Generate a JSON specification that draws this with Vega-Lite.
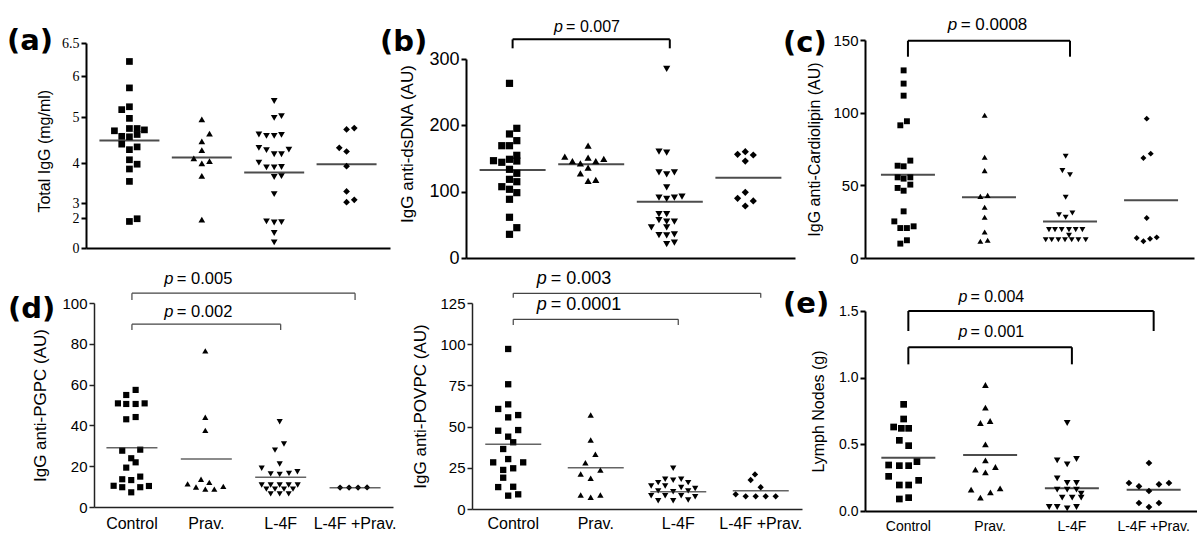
{
  "$schema": "https://vega.github.io/schema/vega-lite/v6.json",
  "background": "white",
  "padding": {"left": 7, "top": 15, "right": 0, "bottom": 0},
  "config": {
    "font": "Liberation Sans",
    "view": {"stroke": null},
    "axis": {"grid": false, "domainColor": "black", "tickColor": "black", "labelColor": "black", "titleColor": "black", "titleFontWeight": "normal", "domainWidth": 1.5, "tickWidth": 1.5, "tickSize": 5, "labelPadding": 2, "labelOverlap": false},
    "axisX": {"ticks": false, "title": null, "labelAngle": 0},
    "title": {"color": "black", "font": "DejaVu Sans", "fontSize": 29, "fontWeight": "bold", "anchor": "start", "frame": "group", "baseline": "middle", "offset": 0}
  },
  "datasets": {
    "pts": [
      {"p":"a","g":"Control","v":6.22,"dx":0},{"p":"a","g":"Control","v":5.71,"dx":0},{"p":"a","g":"Control","v":5.18,"dx":-7.7},{"p":"a","g":"Control","v":5.25,"dx":0},{"p":"a","g":"Control","v":4.97,"dx":0},{"p":"a","g":"Control","v":4.70,"dx":-15},{"p":"a","g":"Control","v":4.75,"dx":0},{"p":"a","g":"Control","v":4.75,"dx":7.7},{"p":"a","g":"Control","v":4.72,"dx":15},{"p":"a","g":"Control","v":4.58,"dx":-7.7},{"p":"a","g":"Control","v":4.57,"dx":0},{"p":"a","g":"Control","v":4.62,"dx":7.7},{"p":"a","g":"Control","v":4.41,"dx":-7.7},{"p":"a","g":"Control","v":4.29,"dx":0},{"p":"a","g":"Control","v":4.35,"dx":7.7},{"p":"a","g":"Control","v":4.07,"dx":0},{"p":"a","g":"Control","v":3.97,"dx":7.7},{"p":"a","g":"Control","v":3.85,"dx":0},{"p":"a","g":"Control","v":3.54,"dx":0},{"p":"a","g":"Control","v":1.77,"dx":0},{"p":"a","g":"Control","v":1.95,"dx":7.7},
      {"p":"a","g":"Prav.","v":4.95,"dx":0},{"p":"a","g":"Prav.","v":4.64,"dx":7.7},{"p":"a","g":"Prav.","v":4.47,"dx":0},{"p":"a","g":"Prav.","v":4.28,"dx":0},{"p":"a","g":"Prav.","v":4.10,"dx":-8},{"p":"a","g":"Prav.","v":3.99,"dx":0},{"p":"a","g":"Prav.","v":4.04,"dx":7.7},{"p":"a","g":"Prav.","v":3.68,"dx":0},{"p":"a","g":"Prav.","v":1.89,"dx":0},
      {"p":"a","g":"L-4F","v":5.39,"dx":0},{"p":"a","g":"L-4F","v":4.98,"dx":0},{"p":"a","g":"L-4F","v":5.02,"dx":7.3},{"p":"a","g":"L-4F","v":4.62,"dx":-15.3},{"p":"a","g":"L-4F","v":4.59,"dx":-7.7},{"p":"a","g":"L-4F","v":4.59,"dx":0},{"p":"a","g":"L-4F","v":4.61,"dx":7.3},{"p":"a","g":"L-4F","v":4.33,"dx":-15.3},{"p":"a","g":"L-4F","v":4.28,"dx":-7.7},{"p":"a","g":"L-4F","v":4.19,"dx":0},{"p":"a","g":"L-4F","v":4.19,"dx":7.3},{"p":"a","g":"L-4F","v":4.29,"dx":14.7},{"p":"a","g":"L-4F","v":4.01,"dx":-15.3},{"p":"a","g":"L-4F","v":3.89,"dx":-7.7},{"p":"a","g":"L-4F","v":3.89,"dx":0},{"p":"a","g":"L-4F","v":3.90,"dx":7.3},{"p":"a","g":"L-4F","v":3.65,"dx":0},{"p":"a","g":"L-4F","v":3.67,"dx":7.3},{"p":"a","g":"L-4F","v":3.22,"dx":0},{"p":"a","g":"L-4F","v":1.77,"dx":-7.7},{"p":"a","g":"L-4F","v":1.70,"dx":0},{"p":"a","g":"L-4F","v":1.73,"dx":7.3},{"p":"a","g":"L-4F","v":1.0,"dx":0},{"p":"a","g":"L-4F","v":0.38,"dx":0},
      {"p":"a","g":"L-4F +Prav.","v":4.73,"dx":0},{"p":"a","g":"L-4F +Prav.","v":4.76,"dx":7.7},{"p":"a","g":"L-4F +Prav.","v":4.33,"dx":-7.3},{"p":"a","g":"L-4F +Prav.","v":4.25,"dx":0},{"p":"a","g":"L-4F +Prav.","v":3.92,"dx":0},{"p":"a","g":"L-4F +Prav.","v":3.29,"dx":0},{"p":"a","g":"L-4F +Prav.","v":3.02,"dx":0},{"p":"a","g":"L-4F +Prav.","v":3.08,"dx":7.7},

      {"p":"b","g":"Control","v":263.3,"dx":0},{"p":"b","g":"Control","v":195.5,"dx":7.3},{"p":"b","g":"Control","v":187,"dx":0},{"p":"b","g":"Control","v":176.9,"dx":7.3},{"p":"b","g":"Control","v":169.3,"dx":-7.7},{"p":"b","g":"Control","v":169.3,"dx":0},{"p":"b","g":"Control","v":146.7,"dx":-16},{"p":"b","g":"Control","v":144.3,"dx":-7.7},{"p":"b","g":"Control","v":148.8,"dx":0},{"p":"b","g":"Control","v":154.8,"dx":7.3},{"p":"b","g":"Control","v":146.2,"dx":7.3},{"p":"b","g":"Control","v":133.7,"dx":0},{"p":"b","g":"Control","v":127.7,"dx":7.3},{"p":"b","g":"Control","v":118.6,"dx":0},{"p":"b","g":"Control","v":115,"dx":7.3},{"p":"b","g":"Control","v":107.5,"dx":-7.7},{"p":"b","g":"Control","v":103.6,"dx":0},{"p":"b","g":"Control","v":98.5,"dx":7.3},{"p":"b","g":"Control","v":88.5,"dx":0},{"p":"b","g":"Control","v":61.4,"dx":0},{"p":"b","g":"Control","v":45.7,"dx":7.3},{"p":"b","g":"Control","v":35.7,"dx":0},
      {"p":"b","g":"Prav.","v":169.3,"dx":0},{"p":"b","g":"Prav.","v":152.7,"dx":-23.3},{"p":"b","g":"Prav.","v":146.2,"dx":-15.7},{"p":"b","g":"Prav.","v":142.8,"dx":-7.7},{"p":"b","g":"Prav.","v":151.2,"dx":0},{"p":"b","g":"Prav.","v":146.2,"dx":7.7},{"p":"b","g":"Prav.","v":149.3,"dx":15.7},{"p":"b","g":"Prav.","v":127.7,"dx":-7.7},{"p":"b","g":"Prav.","v":136.2,"dx":0},{"p":"b","g":"Prav.","v":116.1,"dx":0},{"p":"b","g":"Prav.","v":117.6,"dx":7.7},
      {"p":"b","g":"L-4F","v":285,"dx":0},{"p":"b","g":"L-4F","v":160.3,"dx":-7.7},{"p":"b","g":"L-4F","v":158.8,"dx":0},{"p":"b","g":"L-4F","v":129.2,"dx":-7.7},{"p":"b","g":"L-4F","v":126.2,"dx":0},{"p":"b","g":"L-4F","v":129.2,"dx":7.7},{"p":"b","g":"L-4F","v":106.6,"dx":0},{"p":"b","g":"L-4F","v":91,"dx":-7.7},{"p":"b","g":"L-4F","v":89,"dx":0},{"p":"b","g":"L-4F","v":91,"dx":7.7},{"p":"b","g":"L-4F","v":92.5,"dx":15.3},{"p":"b","g":"L-4F","v":66,"dx":-7.7},{"p":"b","g":"L-4F","v":66,"dx":0},{"p":"b","g":"L-4F","v":57,"dx":-7.7},{"p":"b","g":"L-4F","v":55,"dx":0},{"p":"b","g":"L-4F","v":55,"dx":7.7},{"p":"b","g":"L-4F","v":46,"dx":-15.3},{"p":"b","g":"L-4F","v":46,"dx":0},{"p":"b","g":"L-4F","v":34.5,"dx":-7.7},{"p":"b","g":"L-4F","v":34,"dx":0},{"p":"b","g":"L-4F","v":35.5,"dx":7.7},{"p":"b","g":"L-4F","v":21,"dx":0},{"p":"b","g":"L-4F","v":23,"dx":7.7},
      {"p":"b","g":"L-4F +Prav.","v":156.3,"dx":-7.7},{"p":"b","g":"L-4F +Prav.","v":160.3,"dx":0},{"p":"b","g":"L-4F +Prav.","v":155.3,"dx":8},{"p":"b","g":"L-4F +Prav.","v":146.2,"dx":0},{"p":"b","g":"L-4F +Prav.","v":90,"dx":-7.7},{"p":"b","g":"L-4F +Prav.","v":99,"dx":0},{"p":"b","g":"L-4F +Prav.","v":86,"dx":8},{"p":"b","g":"L-4F +Prav.","v":78.4,"dx":0},

      {"p":"c","g":"Control","v":129.1,"dx":0},{"p":"c","g":"Control","v":120,"dx":0},{"p":"c","g":"Control","v":111.7,"dx":0},{"p":"c","g":"Control","v":91.3,"dx":-3.3},{"p":"c","g":"Control","v":94.1,"dx":3.3},{"p":"c","g":"Control","v":67,"dx":6.7},{"p":"c","g":"Control","v":63.5,"dx":-6},{"p":"c","g":"Control","v":63.1,"dx":0},{"p":"c","g":"Control","v":55.5,"dx":-6},{"p":"c","g":"Control","v":54.6,"dx":0},{"p":"c","g":"Control","v":55.5,"dx":6.7},{"p":"c","g":"Control","v":48.2,"dx":-6},{"p":"c","g":"Control","v":46.3,"dx":0},{"p":"c","g":"Control","v":50.5,"dx":6.7},{"p":"c","g":"Control","v":32.1,"dx":0},{"p":"c","g":"Control","v":25.2,"dx":-9.3},{"p":"c","g":"Control","v":20.6,"dx":-3.3},{"p":"c","g":"Control","v":20.6,"dx":3.3},{"p":"c","g":"Control","v":21.8,"dx":10},{"p":"c","g":"Control","v":9.9,"dx":-3.3},{"p":"c","g":"Control","v":12.2,"dx":3.3},
      {"p":"c","g":"Prav.","v":98.2,"dx":0},{"p":"c","g":"Prav.","v":69.3,"dx":0},{"p":"c","g":"Prav.","v":60.1,"dx":0},{"p":"c","g":"Prav.","v":42.4,"dx":-4.3},{"p":"c","g":"Prav.","v":43.1,"dx":3},{"p":"c","g":"Prav.","v":34.9,"dx":0},{"p":"c","g":"Prav.","v":28,"dx":0},{"p":"c","g":"Prav.","v":17.9,"dx":0},{"p":"c","g":"Prav.","v":11.5,"dx":-4.3},{"p":"c","g":"Prav.","v":12.2,"dx":3},
      {"p":"c","g":"L-4F","v":70,"dx":0},{"p":"c","g":"L-4F","v":60.1,"dx":-3.3},{"p":"c","g":"L-4F","v":57.3,"dx":4.3},{"p":"c","g":"L-4F","v":41.8,"dx":0},{"p":"c","g":"L-4F","v":29.8,"dx":-6.7},{"p":"c","g":"L-4F","v":28,"dx":0},{"p":"c","g":"L-4F","v":31,"dx":6.7},{"p":"c","g":"L-4F","v":19.5,"dx":-16.7},{"p":"c","g":"L-4F","v":19.5,"dx":-10.7},{"p":"c","g":"L-4F","v":19.5,"dx":-4},{"p":"c","g":"L-4F","v":19.5,"dx":3.3},{"p":"c","g":"L-4F","v":19.5,"dx":10},{"p":"c","g":"L-4F","v":19.5,"dx":16.7},{"p":"c","g":"L-4F","v":15.6,"dx":3.3},{"p":"c","g":"L-4F","v":12.6,"dx":-20},{"p":"c","g":"L-4F","v":12.6,"dx":-14},{"p":"c","g":"L-4F","v":12.6,"dx":-7.3},{"p":"c","g":"L-4F","v":12.6,"dx":-0.7},{"p":"c","g":"L-4F","v":12.6,"dx":6},{"p":"c","g":"L-4F","v":12.6,"dx":12.7},{"p":"c","g":"L-4F","v":12.6,"dx":20},
      {"p":"c","g":"L-4F +Prav.","v":95.9,"dx":0},{"p":"c","g":"L-4F +Prav.","v":68.8,"dx":-3.3},{"p":"c","g":"L-4F +Prav.","v":71.8,"dx":4},{"p":"c","g":"L-4F +Prav.","v":27.5,"dx":0},{"p":"c","g":"L-4F +Prav.","v":13.8,"dx":-10},{"p":"c","g":"L-4F +Prav.","v":11.5,"dx":-3.3},{"p":"c","g":"L-4F +Prav.","v":13.3,"dx":3.3},{"p":"c","g":"L-4F +Prav.","v":14.2,"dx":10},

      {"p":"d","g":"Control","v":57.4,"dx":4.7},{"p":"d","g":"Control","v":54.9,"dx":-4.7},{"p":"d","g":"Control","v":50.8,"dx":-13},{"p":"d","g":"Control","v":50.5,"dx":-4.7},{"p":"d","g":"Control","v":50.5,"dx":4.7},{"p":"d","g":"Control","v":50.8,"dx":13.7},{"p":"d","g":"Control","v":43,"dx":-4.7},{"p":"d","g":"Control","v":44.1,"dx":4.7},{"p":"d","g":"Control","v":27.6,"dx":-8.7},{"p":"d","g":"Control","v":28.1,"dx":9.3},{"p":"d","g":"Control","v":23.9,"dx":0.3},{"p":"d","g":"Control","v":19.3,"dx":-4.7},{"p":"d","g":"Control","v":21.9,"dx":4.7},{"p":"d","g":"Control","v":13.6,"dx":-8.7},{"p":"d","g":"Control","v":13.2,"dx":0.3},{"p":"d","g":"Control","v":14.9,"dx":9.3},{"p":"d","g":"Control","v":10.4,"dx":-17.3},{"p":"d","g":"Control","v":9.7,"dx":-8.7},{"p":"d","g":"Control","v":7.2,"dx":0.3},{"p":"d","g":"Control","v":9.7,"dx":9.3},{"p":"d","g":"Control","v":10.3,"dx":18},
      {"p":"d","g":"Prav.","v":76.5,"dx":0},{"p":"d","g":"Prav.","v":44,"dx":0},{"p":"d","g":"Prav.","v":37.6,"dx":0},{"p":"d","g":"Prav.","v":11.3,"dx":-17.7},{"p":"d","g":"Prav.","v":13.6,"dx":-4.3},{"p":"d","g":"Prav.","v":12.1,"dx":4},{"p":"d","g":"Prav.","v":9.8,"dx":-9.3},{"p":"d","g":"Prav.","v":8.8,"dx":0},{"p":"d","g":"Prav.","v":8.8,"dx":9},{"p":"d","g":"Prav.","v":10.1,"dx":18},
      {"p":"d","g":"L-4F","v":41.8,"dx":0},{"p":"d","g":"L-4F","v":30.9,"dx":4.3},{"p":"d","g":"L-4F","v":27.9,"dx":-4.7},{"p":"d","g":"L-4F","v":21.1,"dx":0},{"p":"d","g":"L-4F","v":19,"dx":-18},{"p":"d","g":"L-4F","v":16.2,"dx":-9},{"p":"d","g":"L-4F","v":16,"dx":0},{"p":"d","g":"L-4F","v":16.5,"dx":9.3},{"p":"d","g":"L-4F","v":17.3,"dx":17.7},{"p":"d","g":"L-4F","v":10.8,"dx":-18},{"p":"d","g":"L-4F","v":10.8,"dx":-9},{"p":"d","g":"L-4F","v":10.8,"dx":0},{"p":"d","g":"L-4F","v":10.8,"dx":9},{"p":"d","g":"L-4F","v":10.8,"dx":18},{"p":"d","g":"L-4F","v":8.8,"dx":-13.3},{"p":"d","g":"L-4F","v":8.8,"dx":-4.7},{"p":"d","g":"L-4F","v":8.8,"dx":4.3},{"p":"d","g":"L-4F","v":8.8,"dx":13.3},{"p":"d","g":"L-4F","v":6.4,"dx":-9},{"p":"d","g":"L-4F","v":6.4,"dx":0},{"p":"d","g":"L-4F","v":6.4,"dx":9},
      {"p":"d","g":"L-4F +Prav.","v":9.5,"dx":-14},{"p":"d","g":"L-4F +Prav.","v":9.5,"dx":-5},{"p":"d","g":"L-4F +Prav.","v":9.5,"dx":4},{"p":"d","g":"L-4F +Prav.","v":9.6,"dx":13},

      {"p":"m","g":"Control","v":97.1,"dx":0},{"p":"m","g":"Control","v":75.7,"dx":0},{"p":"m","g":"Control","v":60.7,"dx":-10},{"p":"m","g":"Control","v":63.5,"dx":0},{"p":"m","g":"Control","v":57,"dx":10},{"p":"m","g":"Control","v":55.6,"dx":0},{"p":"m","g":"Control","v":47.5,"dx":-10},{"p":"m","g":"Control","v":47.9,"dx":10},{"p":"m","g":"Control","v":43.9,"dx":0},{"p":"m","g":"Control","v":40.5,"dx":5},{"p":"m","g":"Control","v":36.4,"dx":-5},{"p":"m","g":"Control","v":28.3,"dx":-15},{"p":"m","g":"Control","v":30.3,"dx":0},{"p":"m","g":"Control","v":28.3,"dx":15},{"p":"m","g":"Control","v":23.7,"dx":-5},{"p":"m","g":"Control","v":24.7,"dx":5},{"p":"m","g":"Control","v":19,"dx":-5},{"p":"m","g":"Control","v":13.3,"dx":-10},{"p":"m","g":"Control","v":13.5,"dx":5},{"p":"m","g":"Control","v":8.1,"dx":0},{"p":"m","g":"Control","v":8.9,"dx":10},
      {"p":"m","g":"Prav.","v":57,"dx":0},{"p":"m","g":"Prav.","v":41.9,"dx":0},{"p":"m","g":"Prav.","v":33.2,"dx":4.7},{"p":"m","g":"Prav.","v":28.1,"dx":-5.3},{"p":"m","g":"Prav.","v":21.2,"dx":-10},{"p":"m","g":"Prav.","v":18.6,"dx":0},{"p":"m","g":"Prav.","v":23.7,"dx":9.7},{"p":"m","g":"Prav.","v":8.5,"dx":-10},{"p":"m","g":"Prav.","v":7.1,"dx":0},{"p":"m","g":"Prav.","v":8.5,"dx":9.7},
      {"p":"m","g":"L-4F","v":24.7,"dx":0},{"p":"m","g":"L-4F","v":18,"dx":-8},{"p":"m","g":"L-4F","v":17.5,"dx":0},{"p":"m","g":"L-4F","v":18,"dx":8},{"p":"m","g":"L-4F","v":16,"dx":-15},{"p":"m","g":"L-4F","v":16,"dx":15},{"p":"m","g":"L-4F","v":14,"dx":-22},{"p":"m","g":"L-4F","v":14,"dx":-8},{"p":"m","g":"L-4F","v":13,"dx":8},{"p":"m","g":"L-4F","v":12.5,"dx":22},{"p":"m","g":"L-4F","v":11,"dx":-15},{"p":"m","g":"L-4F","v":10.5,"dx":0},{"p":"m","g":"L-4F","v":11,"dx":15},{"p":"m","g":"L-4F","v":8,"dx":-22},{"p":"m","g":"L-4F","v":8,"dx":-8},{"p":"m","g":"L-4F","v":8,"dx":8},{"p":"m","g":"L-4F","v":7.5,"dx":22},{"p":"m","g":"L-4F","v":5,"dx":-15},{"p":"m","g":"L-4F","v":5,"dx":0},{"p":"m","g":"L-4F","v":5.5,"dx":15},
      {"p":"m","g":"L-4F +Prav.","v":21,"dx":-0.7},{"p":"m","g":"L-4F +Prav.","v":17.6,"dx":-5},{"p":"m","g":"L-4F +Prav.","v":13.2,"dx":5},{"p":"m","g":"L-4F +Prav.","v":8.9,"dx":-20},{"p":"m","g":"L-4F +Prav.","v":7.7,"dx":-10},{"p":"m","g":"L-4F +Prav.","v":7.7,"dx":0},{"p":"m","g":"L-4F +Prav.","v":7.7,"dx":10},{"p":"m","g":"L-4F +Prav.","v":7.7,"dx":20},

      {"p":"e","g":"Control","v":0.80,"dx":0},{"p":"e","g":"Control","v":0.69,"dx":0},{"p":"e","g":"Control","v":0.63,"dx":-10},{"p":"e","g":"Control","v":0.62,"dx":-2.3},{"p":"e","g":"Control","v":0.62,"dx":5},{"p":"e","g":"Control","v":0.53,"dx":-4.3},{"p":"e","g":"Control","v":0.49,"dx":5},{"p":"e","g":"Control","v":0.345,"dx":-15},{"p":"e","g":"Control","v":0.34,"dx":-4.3},{"p":"e","g":"Control","v":0.34,"dx":5},{"p":"e","g":"Control","v":0.37,"dx":13.3},{"p":"e","g":"Control","v":0.26,"dx":-15},{"p":"e","g":"Control","v":0.23,"dx":15},{"p":"e","g":"Control","v":0.195,"dx":-4.3},{"p":"e","g":"Control","v":0.195,"dx":5},{"p":"e","g":"Control","v":0.09,"dx":-4.3},{"p":"e","g":"Control","v":0.10,"dx":5},
      {"p":"e","g":"Prav.","v":0.945,"dx":0},{"p":"e","g":"Prav.","v":0.775,"dx":0},{"p":"e","g":"Prav.","v":0.66,"dx":-5},{"p":"e","g":"Prav.","v":0.675,"dx":4.7},{"p":"e","g":"Prav.","v":0.50,"dx":0},{"p":"e","g":"Prav.","v":0.38,"dx":0},{"p":"e","g":"Prav.","v":0.31,"dx":-10},{"p":"e","g":"Prav.","v":0.29,"dx":0},{"p":"e","g":"Prav.","v":0.33,"dx":10},{"p":"e","g":"Prav.","v":0.16,"dx":-14.3},{"p":"e","g":"Prav.","v":0.10,"dx":-5},{"p":"e","g":"Prav.","v":0.14,"dx":5},{"p":"e","g":"Prav.","v":0.17,"dx":14.7},
      {"p":"e","g":"L-4F","v":0.66,"dx":0},{"p":"e","g":"L-4F","v":0.38,"dx":-10},{"p":"e","g":"L-4F","v":0.35,"dx":0},{"p":"e","g":"L-4F","v":0.39,"dx":9.3},{"p":"e","g":"L-4F","v":0.245,"dx":-10},{"p":"e","g":"L-4F","v":0.21,"dx":0},{"p":"e","g":"L-4F","v":0.21,"dx":9.3},{"p":"e","g":"L-4F","v":0.16,"dx":-10},{"p":"e","g":"L-4F","v":0.16,"dx":0},{"p":"e","g":"L-4F","v":0.16,"dx":9.3},{"p":"e","g":"L-4F","v":0.13,"dx":14},{"p":"e","g":"L-4F","v":0.10,"dx":-5},{"p":"e","g":"L-4F","v":0.10,"dx":5},{"p":"e","g":"L-4F","v":0.10,"dx":14},{"p":"e","g":"L-4F","v":0.03,"dx":-10},{"p":"e","g":"L-4F","v":0.02,"dx":0},{"p":"e","g":"L-4F","v":0.03,"dx":9.3},{"p":"e","g":"L-4F","v":0.03,"dx":-18},
      {"p":"e","g":"L-4F +Prav.","v":0.36,"dx":0},{"p":"e","g":"L-4F +Prav.","v":0.21,"dx":-20},{"p":"e","g":"L-4F +Prav.","v":0.185,"dx":-10},{"p":"e","g":"L-4F +Prav.","v":0.20,"dx":10},{"p":"e","g":"L-4F +Prav.","v":0.21,"dx":20},{"p":"e","g":"L-4F +Prav.","v":0.15,"dx":0},{"p":"e","g":"L-4F +Prav.","v":0.06,"dx":-10},{"p":"e","g":"L-4F +Prav.","v":0.06,"dx":10},{"p":"e","g":"L-4F +Prav.","v":0.03,"dx":0}
    ],
    "means": [
      {"p":"a","g":"Control","v":4.49},{"p":"a","g":"Prav.","v":4.12},{"p":"a","g":"L-4F","v":3.76},{"p":"a","g":"L-4F +Prav.","v":3.97},
      {"p":"b","g":"Control","v":132.7},{"p":"b","g":"Prav.","v":141.3},{"p":"b","g":"L-4F","v":84.9},{"p":"b","g":"L-4F +Prav.","v":121},
      {"p":"c","g":"Control","v":57.3},{"p":"c","g":"Prav.","v":41.8},{"p":"c","g":"L-4F","v":25.2},{"p":"c","g":"L-4F +Prav.","v":39.7},
      {"p":"d","g":"Control","v":29.1},{"p":"d","g":"Prav.","v":23.5},{"p":"d","g":"L-4F","v":14.6},{"p":"d","g":"L-4F +Prav.","v":9.4},
      {"p":"m","g":"Control","v":39.3},{"p":"m","g":"Prav.","v":25.1},{"p":"m","g":"L-4F","v":10.5},{"p":"m","g":"L-4F +Prav.","v":11.1},
      {"p":"e","g":"Control","v":0.40},{"p":"e","g":"Prav.","v":0.42},{"p":"e","g":"L-4F","v":0.17},{"p":"e","g":"L-4F +Prav.","v":0.16}
    ],
    "br": [
      {"p":"b","from":"Control","to":"L-4F","top":329.6,"bot":316.1},
      {"p":"c","from":"Control","to":"L-4F","top":149.5,"bot":138.5},
      {"p":"d","from":"Control","to":"L-4F +Prav.","top":104.8,"bot":101.5},
      {"p":"d","from":"Control","to":"L-4F","top":89.6,"bot":86.8},
      {"p":"m","from":"Control","to":"L-4F +Prav.","top":130.9,"bot":128.2},
      {"p":"m","from":"Control","to":"L-4F","top":115.1,"bot":111.7},
      {"p":"e","from":"Control","to":"L-4F +Prav.","top":1.5,"bot":1.35},
      {"p":"e","from":"Control","to":"L-4F","top":1.228,"bot":1.10}
    ],
    "ptext": [
      {"p":"b","g":"Prav.","dx":-34,"y":341.2,"t":"= 0.007"},
      {"p":"c","g":"Prav.","dx":-37,"y":156.9,"t":"= 0.0008"},
      {"p":"d","g":"Prav.","dx":-41,"y":109.3,"t":"= 0.005"},
      {"p":"d","g":"Prav.","dx":-41,"y":93.3,"t":"= 0.002"},
      {"p":"m","g":"Prav.","dx":-54,"y":136.5,"t":"= 0.003"},
      {"p":"m","g":"Prav.","dx":-54,"y":120.8,"t":"= 0.0001"},
      {"p":"e","g":"Prav.","dx":-27,"y":1.570,"t":"= 0.004"},
      {"p":"e","g":"Prav.","dx":-27,"y":1.308,"t":"= 0.001"}
    ]
  },
  "bounds": "flush",
  "align": "none",
  "columns": 3,
  "spacing": {"row": 45, "column": 68},
  "concat": [
    {
      "width": 304, "height": 208,
      "title": {"text": "(a)", "dx": -79, "dy": 24},
      "layer": [
        {"data": {"name": "pts"}, "transform": [{"filter": "datum.p=='a'"}],
         "mark": {"type": "point", "filled": true, "opacity": 1, "color": "black", "size": 45},
         "encoding": {
           "x": {"field": "g", "type": "nominal", "scale": {"domain": ["Control","Prav.","L-4F","L-4F +Prav."], "paddingOuter": 0.1, "paddingInner": 0}, "axis": {"labels": false, "domainWidth": 2, "title": null}},
           "xOffset": {"field": "dx", "type": "quantitative", "scale": {"domain": [-100, 100], "range": [-63.81, 136.19]}},
           "y": {"field": "v", "type": "quantitative", "scale": {"type": "linear", "domain": [0,2,3,4,5,6,6.5], "range": [208,178,163,123,77,36,3], "nice": false, "zero": false}, "axis": {"values": [0,2,3,4,5,6,6.5], "tickCount": 12, "labelExpr": "toString(datum.value)", "labelOverlap": false, "labelFont": "Liberation Serif", "labelFontSize": 14, "title": "Total IgG (mg/ml)", "titleFontSize": 16, "titlePadding": 9, "titleY": 110.7, "domainWidth": 2, "tickWidth": 2}},
           "shape": {"field": "g", "type": "nominal", "scale": {"domain": ["Control","Prav.","L-4F","L-4F +Prav."], "range": ["square","triangle-up","triangle-down","diamond"]}, "legend": null}
         }},
        {"data": {"name": "means"}, "transform": [{"filter": "datum.p=='a'"}],
         "mark": {"type": "tick", "size": 60, "thickness": 2, "color": "black"},
         "encoding": {"x": {"field": "g", "type": "nominal"}, "y": {"field": "v", "type": "quantitative"}}}
      ]
    },
    {
      "width": 329, "height": 218,
      "title": {"text": "(b)", "dx": -86, "dy": 42},
      "layer": [
        {"data": {"name": "pts"}, "transform": [{"filter": "datum.p=='b'"}],
         "mark": {"type": "point", "filled": true, "opacity": 1, "color": "black", "size": 52},
         "encoding": {
           "x": {"field": "g", "type": "nominal", "scale": {"domain": ["Control","Prav.","L-4F","L-4F +Prav."], "paddingOuter": 0.093, "paddingInner": 0}, "axis": {"labels": false, "domainWidth": 2, "title": null}},
           "xOffset": {"field": "dx", "type": "quantitative", "scale": {"domain": [-100, 100], "range": [-60.7, 139.3]}},
           "y": {"field": "v", "type": "quantitative", "scale": {"domain": [0, 300], "range": [218, 19], "nice": false}, "axis": {"values": [0,100,200,300], "labelFontSize": 18, "title": "IgG anti-dsDNA (AU)", "titleFontSize": 17, "titlePadding": 12, "titleY": 103.5, "domainWidth": 2, "tickWidth": 2}},
           "shape": {"field": "g", "type": "nominal", "scale": {"domain": ["Control","Prav.","L-4F","L-4F +Prav."], "range": ["square","triangle-up","triangle-down","diamond"]}, "legend": null}
         }},
        {"data": {"name": "means"}, "transform": [{"filter": "datum.p=='b'"}],
         "mark": {"type": "tick", "size": 66, "thickness": 2, "color": "black"},
         "encoding": {"x": {"field": "g", "type": "nominal"}, "y": {"field": "v", "type": "quantitative"}}},
        {"data": {"name": "br"}, "transform": [{"filter": "datum.p=='b'"}],
         "mark": {"type": "rule", "strokeWidth": 2, "color": "black"},
         "encoding": {"x": {"field": "from", "type": "nominal"}, "x2": {"field": "to"}, "y": {"field": "top", "type": "quantitative"}}},
        {"data": {"name": "br"}, "transform": [{"filter": "datum.p=='b'"}],
         "mark": {"type": "rule", "strokeWidth": 2, "color": "black"},
         "encoding": {"x": {"field": "from", "type": "nominal"}, "y": {"field": "top", "type": "quantitative"}, "y2": {"field": "bot"}}},
        {"data": {"name": "br"}, "transform": [{"filter": "datum.p=='b'"}],
         "mark": {"type": "rule", "strokeWidth": 2, "color": "black"},
         "encoding": {"x": {"field": "to", "type": "nominal"}, "y": {"field": "top", "type": "quantitative"}, "y2": {"field": "bot"}}},
        {"data": {"name": "ptext"}, "transform": [{"filter": "datum.p=='b'"}],
         "mark": {"type": "text", "text": "p", "fontStyle": "italic", "align": "left", "baseline": "alphabetic", "fontSize": 16, "color": "black"},
         "encoding": {"x": {"field": "g", "type": "nominal"}, "xOffset": {"field": "dx", "type": "quantitative"}, "y": {"field": "y", "type": "quantitative"}}},
        {"data": {"name": "ptext"}, "transform": [{"filter": "datum.p=='b'"}],
         "mark": {"type": "text", "align": "left", "baseline": "alphabetic", "fontSize": 16, "dx": 12, "color": "black"},
         "encoding": {"x": {"field": "g", "type": "nominal"}, "xOffset": {"field": "dx", "type": "quantitative"}, "y": {"field": "y", "type": "quantitative"}, "text": {"field": "t"}}}
      ]
    },
    {
      "width": 329, "height": 218,
      "title": {"text": "(c)", "dx": -82, "dy": 46},
      "layer": [
        {"data": {"name": "pts"}, "transform": [{"filter": "datum.p=='c'"}],
         "mark": {"type": "point", "filled": true, "opacity": 1, "color": "black", "size": 35},
         "encoding": {
           "x": {"field": "g", "type": "nominal", "scale": {"domain": ["Control","Prav.","L-4F","L-4F +Prav."], "paddingOuter": 0.03, "paddingInner": 0}, "axis": {"labels": false, "domainWidth": 2, "title": null}},
           "xOffset": {"field": "dx", "type": "quantitative", "scale": {"domain": [-100, 100], "range": [-59.5, 140.5]}},
           "y": {"field": "v", "type": "quantitative", "scale": {"domain": [0, 150], "nice": false}, "axis": {"values": [0,50,100,150], "labelFontSize": 15, "title": "IgG anti-Cardiolipin (AU)", "titleFontSize": 16, "titlePadding": 10, "domainWidth": 2, "tickWidth": 2}},
           "shape": {"field": "g", "type": "nominal", "scale": {"domain": ["Control","Prav.","L-4F","L-4F +Prav."], "range": ["square","triangle-up","triangle-down","diamond"]}, "legend": null}
         }},
        {"data": {"name": "means"}, "transform": [{"filter": "datum.p=='c'"}],
         "mark": {"type": "tick", "size": 54, "thickness": 2, "color": "black"},
         "encoding": {"x": {"field": "g", "type": "nominal"}, "y": {"field": "v", "type": "quantitative"}}},
        {"data": {"name": "br"}, "transform": [{"filter": "datum.p=='c'"}],
         "mark": {"type": "rule", "strokeWidth": 2, "color": "black"},
         "encoding": {"x": {"field": "from", "type": "nominal"}, "x2": {"field": "to"}, "y": {"field": "top", "type": "quantitative"}}},
        {"data": {"name": "br"}, "transform": [{"filter": "datum.p=='c'"}],
         "mark": {"type": "rule", "strokeWidth": 2, "color": "black"},
         "encoding": {"x": {"field": "from", "type": "nominal"}, "y": {"field": "top", "type": "quantitative"}, "y2": {"field": "bot"}}},
        {"data": {"name": "br"}, "transform": [{"filter": "datum.p=='c'"}],
         "mark": {"type": "rule", "strokeWidth": 2, "color": "black"},
         "encoding": {"x": {"field": "to", "type": "nominal"}, "y": {"field": "top", "type": "quantitative"}, "y2": {"field": "bot"}}},
        {"data": {"name": "ptext"}, "transform": [{"filter": "datum.p=='c'"}],
         "mark": {"type": "text", "text": "p", "fontStyle": "italic", "align": "left", "baseline": "alphabetic", "fontSize": 17, "color": "black"},
         "encoding": {"x": {"field": "g", "type": "nominal"}, "xOffset": {"field": "dx", "type": "quantitative"}, "y": {"field": "y", "type": "quantitative"}}},
        {"data": {"name": "ptext"}, "transform": [{"filter": "datum.p=='c'"}],
         "mark": {"type": "text", "align": "left", "baseline": "alphabetic", "fontSize": 17, "dx": 13, "color": "black"},
         "encoding": {"x": {"field": "g", "type": "nominal"}, "xOffset": {"field": "dx", "type": "quantitative"}, "y": {"field": "y", "type": "quantitative"}, "text": {"field": "t"}}}
      ]
    },
    {
      "width": 312, "height": 204,
      "title": {"text": "(d)", "dx": -78, "dy": 57},
      "layer": [
        {"data": {"name": "pts"}, "transform": [{"filter": "datum.p=='d'"}],
         "mark": {"type": "point", "filled": true, "opacity": 1, "color": "black", "size": 38},
         "encoding": {
           "x": {"field": "g", "type": "nominal", "scale": {"domain": ["Control","Prav.","L-4F","L-4F +Prav."], "range": [8, 307], "paddingOuter": 0.01, "paddingInner": 0}, "axis": {"labelFontSize": 16, "labelPadding": 8, "domainColor": "#222", "title": null}},
           "xOffset": {"field": "dx", "type": "quantitative", "scale": {"domain": [-100, 100], "range": [-62.8, 137.2]}},
           "y": {"field": "v", "type": "quantitative", "scale": {"domain": [0, 100], "nice": false}, "axis": {"values": [0,20,40,60,80,100], "tickCount": 12, "labelFontSize": 15, "title": "IgG anti-PGPC (AU)", "titleFontSize": 17, "titlePadding": 12, "offset": -8, "domainColor": "#222", "tickColor": "#222"}},
           "shape": {"field": "g", "type": "nominal", "scale": {"domain": ["Control","Prav.","L-4F","L-4F +Prav."], "range": ["square","triangle-up","triangle-down","diamond"]}, "legend": null}
         }},
        {"data": {"name": "means"}, "transform": [{"filter": "datum.p=='d'"}],
         "mark": {"type": "tick", "size": 51, "thickness": 1.5, "color": "#222"},
         "encoding": {"x": {"field": "g", "type": "nominal"}, "y": {"field": "v", "type": "quantitative"}}},
        {"data": {"name": "br"}, "transform": [{"filter": "datum.p=='d'"}],
         "mark": {"type": "rule", "strokeWidth": 1.2, "color": "#444"},
         "encoding": {"x": {"field": "from", "type": "nominal"}, "x2": {"field": "to"}, "y": {"field": "top", "type": "quantitative"}}},
        {"data": {"name": "br"}, "transform": [{"filter": "datum.p=='d'"}],
         "mark": {"type": "rule", "strokeWidth": 1.2, "color": "#444"},
         "encoding": {"x": {"field": "from", "type": "nominal"}, "y": {"field": "top", "type": "quantitative"}, "y2": {"field": "bot"}}},
        {"data": {"name": "br"}, "transform": [{"filter": "datum.p=='d'"}],
         "mark": {"type": "rule", "strokeWidth": 1.2, "color": "#444"},
         "encoding": {"x": {"field": "to", "type": "nominal"}, "y": {"field": "top", "type": "quantitative"}, "y2": {"field": "bot"}}},
        {"data": {"name": "ptext"}, "transform": [{"filter": "datum.p=='d'"}],
         "mark": {"type": "text", "text": "p", "fontStyle": "italic", "align": "left", "baseline": "alphabetic", "fontSize": 16.5, "color": "black"},
         "encoding": {"x": {"field": "g", "type": "nominal"}, "xOffset": {"field": "dx", "type": "quantitative"}, "y": {"field": "y", "type": "quantitative"}}},
        {"data": {"name": "ptext"}, "transform": [{"filter": "datum.p=='d'"}],
         "mark": {"type": "text", "align": "left", "baseline": "alphabetic", "fontSize": 16.5, "dx": 12.5, "color": "black"},
         "encoding": {"x": {"field": "g", "type": "nominal"}, "xOffset": {"field": "dx", "type": "quantitative"}, "y": {"field": "y", "type": "quantitative"}, "text": {"field": "t"}}}
      ]
    },
    {
      "width": 331, "height": 206,
      "layer": [
        {"data": {"name": "pts"}, "transform": [{"filter": "datum.p=='m'"}],
         "mark": {"type": "point", "filled": true, "opacity": 1, "color": "black", "size": 40},
         "encoding": {
           "x": {"field": "g", "type": "nominal", "scale": {"domain": ["Control","Prav.","L-4F","L-4F +Prav."], "range": [6, 336], "paddingOuter": 0, "paddingInner": 0}, "axis": {"labelFontSize": 16, "labelPadding": 6, "domainColor": "#222", "title": null}},
           "xOffset": {"field": "dx", "type": "quantitative", "scale": {"domain": [-100, 100], "range": [-58.75, 141.25]}},
           "y": {"field": "v", "type": "quantitative", "scale": {"domain": [0, 125], "nice": false}, "axis": {"values": [0,25,50,75,100,125], "tickCount": 12, "labelFontSize": 15, "title": "IgG anti-POVPC (AU)", "titleFontSize": 17, "titlePadding": 10, "offset": -6, "domainColor": "#222", "tickColor": "#222"}},
           "shape": {"field": "g", "type": "nominal", "scale": {"domain": ["Control","Prav.","L-4F","L-4F +Prav."], "range": ["square","triangle-up","triangle-down","diamond"]}, "legend": null}
         }},
        {"data": {"name": "means"}, "transform": [{"filter": "datum.p=='m'"}],
         "mark": {"type": "tick", "size": 56, "thickness": 1.5, "color": "#222"},
         "encoding": {"x": {"field": "g", "type": "nominal"}, "y": {"field": "v", "type": "quantitative"}}},
        {"data": {"name": "br"}, "transform": [{"filter": "datum.p=='m'"}],
         "mark": {"type": "rule", "strokeWidth": 1.2, "color": "#444"},
         "encoding": {"x": {"field": "from", "type": "nominal"}, "x2": {"field": "to"}, "y": {"field": "top", "type": "quantitative"}}},
        {"data": {"name": "br"}, "transform": [{"filter": "datum.p=='m'"}],
         "mark": {"type": "rule", "strokeWidth": 1.2, "color": "#444"},
         "encoding": {"x": {"field": "from", "type": "nominal"}, "y": {"field": "top", "type": "quantitative"}, "y2": {"field": "bot"}}},
        {"data": {"name": "br"}, "transform": [{"filter": "datum.p=='m'"}],
         "mark": {"type": "rule", "strokeWidth": 1.2, "color": "#444"},
         "encoding": {"x": {"field": "to", "type": "nominal"}, "y": {"field": "top", "type": "quantitative"}, "y2": {"field": "bot"}}},
        {"data": {"name": "ptext"}, "transform": [{"filter": "datum.p=='m'"}],
         "mark": {"type": "text", "text": "p", "fontStyle": "italic", "align": "left", "baseline": "alphabetic", "fontSize": 18, "color": "black"},
         "encoding": {"x": {"field": "g", "type": "nominal"}, "xOffset": {"field": "dx", "type": "quantitative"}, "y": {"field": "y", "type": "quantitative"}}},
        {"data": {"name": "ptext"}, "transform": [{"filter": "datum.p=='m'"}],
         "mark": {"type": "text", "align": "left", "baseline": "alphabetic", "fontSize": 18, "dx": 14, "color": "black"},
         "encoding": {"x": {"field": "g", "type": "nominal"}, "xOffset": {"field": "dx", "type": "quantitative"}, "y": {"field": "y", "type": "quantitative"}, "text": {"field": "t"}}}
      ]
    },
    {
      "width": 332, "height": 208,
      "title": {"text": "(e)", "dx": -82, "dy": 34},
      "layer": [
        {"data": {"name": "pts"}, "transform": [{"filter": "datum.p=='e'"}],
         "mark": {"type": "point", "filled": true, "opacity": 1, "color": "black", "size": 45},
         "encoding": {
           "x": {"field": "g", "type": "nominal", "scale": {"domain": ["Control","Prav.","L-4F","L-4F +Prav."], "paddingOuter": 0.03, "paddingInner": 0}, "axis": {"labelFontSize": 14, "labelPadding": 8, "domainWidth": 2, "title": null}},
           "xOffset": {"field": "dx", "type": "quantitative", "scale": {"domain": [-100, 100], "range": [-59.1, 140.9]}},
           "y": {"field": "v", "type": "quantitative", "scale": {"domain": [0, 1.5], "range": [208, 8], "nice": false}, "axis": {"values": [0,0.5,1,1.5], "format": ".1f", "labelFontSize": 14, "title": "Lymph Nodes (g)", "titleFontSize": 16, "titlePadding": 12, "domainWidth": 2, "tickWidth": 2}},
           "shape": {"field": "g", "type": "nominal", "scale": {"domain": ["Control","Prav.","L-4F","L-4F +Prav."], "range": ["square","triangle-up","triangle-down","diamond"]}, "legend": null}
         }},
        {"data": {"name": "means"}, "transform": [{"filter": "datum.p=='e'"}],
         "mark": {"type": "tick", "size": 54, "thickness": 2, "color": "black"},
         "encoding": {"x": {"field": "g", "type": "nominal"}, "y": {"field": "v", "type": "quantitative"}}},
        {"data": {"name": "br"}, "transform": [{"filter": "datum.p=='e'"}],
         "mark": {"type": "rule", "strokeWidth": 2, "color": "black"},
         "encoding": {"x": {"field": "from", "type": "nominal"}, "x2": {"field": "to"}, "y": {"field": "top", "type": "quantitative"}}},
        {"data": {"name": "br"}, "transform": [{"filter": "datum.p=='e'"}],
         "mark": {"type": "rule", "strokeWidth": 2, "color": "black"},
         "encoding": {"x": {"field": "from", "type": "nominal"}, "y": {"field": "top", "type": "quantitative"}, "y2": {"field": "bot"}}},
        {"data": {"name": "br"}, "transform": [{"filter": "datum.p=='e'"}],
         "mark": {"type": "rule", "strokeWidth": 2, "color": "black"},
         "encoding": {"x": {"field": "to", "type": "nominal"}, "y": {"field": "top", "type": "quantitative"}, "y2": {"field": "bot"}}},
        {"data": {"name": "ptext"}, "transform": [{"filter": "datum.p=='e'"}],
         "mark": {"type": "text", "text": "p", "fontStyle": "italic", "align": "left", "baseline": "alphabetic", "fontSize": 16, "color": "black"},
         "encoding": {"x": {"field": "g", "type": "nominal"}, "xOffset": {"field": "dx", "type": "quantitative"}, "y": {"field": "y", "type": "quantitative"}}},
        {"data": {"name": "ptext"}, "transform": [{"filter": "datum.p=='e'"}],
         "mark": {"type": "text", "align": "left", "baseline": "alphabetic", "fontSize": 16, "dx": 12, "color": "black"},
         "encoding": {"x": {"field": "g", "type": "nominal"}, "xOffset": {"field": "dx", "type": "quantitative"}, "y": {"field": "y", "type": "quantitative"}, "text": {"field": "t"}}}
      ]
    }
  ]
}
